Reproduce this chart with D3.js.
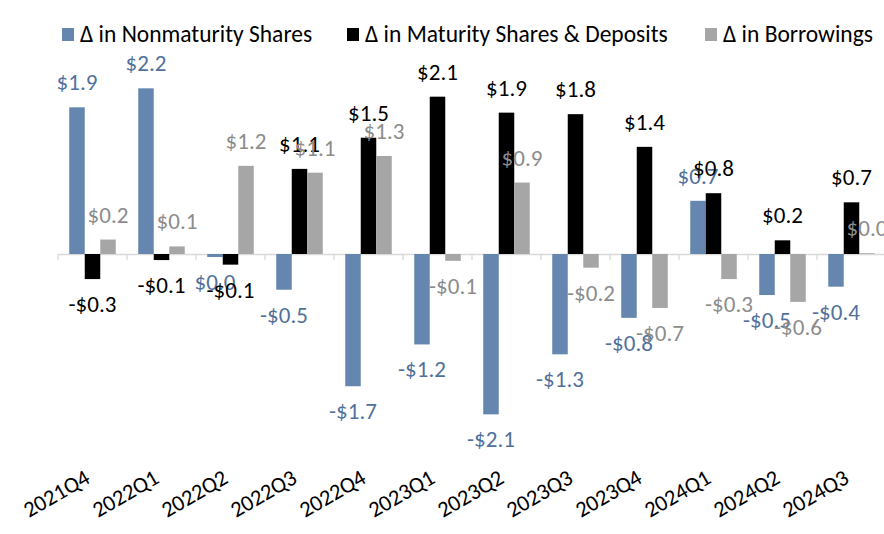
<!DOCTYPE html>
<html>
<head>
<meta charset="utf-8">
<script src="https://cdn.jsdelivr.net/npm/d3@7"></script>
<style>
  html, body { margin: 0; padding: 0; background: #fff; }
  svg { display: block; }
  text { font-family: Carlito, Calibri, Lato, sans-serif; }
</style>
</head>
<body>
<svg id="chart" width="884" height="534"></svg>
<script>
const categories = ["2021Q4","2022Q1","2022Q2","2022Q3","2022Q4","2023Q1","2023Q2","2023Q3","2023Q4","2024Q1","2024Q2","2024Q3"];
const seriesNames = ["Δ in Nonmaturity Shares", "Δ in Maturity Shares & Deposits", "Δ in Borrowings"];
const nonmaturity = [1.93, 2.18, -0.04, -0.47, -1.74, -1.19, -2.11, -1.32, -0.84, 0.70, -0.54, -0.43];
const maturity    = [-0.33, -0.08, -0.14, 1.12, 1.53, 2.07, 1.86, 1.84, 1.41, 0.80, 0.18, 0.68];
const borrowings  = [0.19, 0.10, 1.16, 1.07, 1.29, -0.09, 0.94, -0.18, -0.71, -0.33, -0.63, 0.01];

const series = [nonmaturity, maturity, borrowings];
const barColors = ["#6586AE", "#000000", "#A6A6A6"];
const labelColors = ["#51719C", "#000000", "#8C8C8C"];

const svg = d3.select("#chart");
const x0 = d3.scaleBand().domain(categories).range([58, 886]).paddingInner(0.326).paddingOuter(0.163);
const x1 = d3.scaleBand().domain(d3.range(series.length)).range([0, x0.bandwidth()]);
const y = d3.scaleLinear().domain([-2.5, 2.5]).range([444, 64]);

const fmt = v => (Math.abs(v) < 0.05 ? "$0.0" : (v < 0 ? "-$" : "$") + Math.abs(v).toFixed(1));

// axis line at zero with ticks between categories
const axis = d3.axisBottom(x0).tickSize(0).tickFormat("");
svg.append("g").attr("transform", `translate(0,${y(0)})`).call(axis)
  .call(g => g.select(".domain").attr("stroke", "#D9D9D9").attr("stroke-width", 1.3));
const boundaries = categories.map(c => x0(c) - x0.step() * x0.paddingInner() / 2);
svg.append("g").selectAll("line").data(boundaries).join("line")
  .attr("x1", d => d).attr("x2", d => d)
  .attr("y1", y(0)).attr("y2", y(0) + 6)
  .attr("stroke", "#D9D9D9").attr("stroke-width", 1.3);

// bars
series.forEach((vals, si) => {
  svg.append("g").selectAll("rect").data(vals).join("rect")
    .attr("x", (d, i) => x0(categories[i]) + x1(si))
    .attr("width", x1.bandwidth())
    .attr("y", d => y(Math.max(0, d)))
    .attr("height", d => Math.abs(y(d) - y(0)))
    .attr("fill", barColors[si]);
});

// labels
series.forEach((vals, si) => {
  svg.append("g").selectAll("text").data(vals).join("text")
    .attr("x", (d, i) => x0(categories[i]) + x1(si) + x1.bandwidth() / 2)
    .attr("y", d => d >= 0 ? y(d) - 17 : y(d) + 33)
    .attr("text-anchor", "middle")
    .attr("font-size", 23)
    .attr("fill", labelColors[si])
    .text(d => fmt(d));
});

// category labels
svg.append("g").selectAll("text").data(categories).join("text")
  .attr("transform", c => `translate(${x0(c) + x0.bandwidth() / 2 - 1},482) rotate(-30)`)
  .attr("text-anchor", "end")
  .attr("font-size", 22.5)
  .attr("fill", "#000")
  .text(c => c);

// legend
const legendX = [62, 347, 705];
const lg = svg.append("g").selectAll("g").data(seriesNames).join("g")
  .attr("transform", (d, i) => `translate(${legendX[i]},0)`);
lg.append("rect").attr("x", 0).attr("y", 28).attr("width", 12).attr("height", 13)
  .attr("fill", (d, i) => barColors[i]);
lg.append("text").attr("x", 18).attr("y", 41.5).attr("font-size", 23.5).attr("fill", "#000").text(d => d);
</script>
</body>
</html>
